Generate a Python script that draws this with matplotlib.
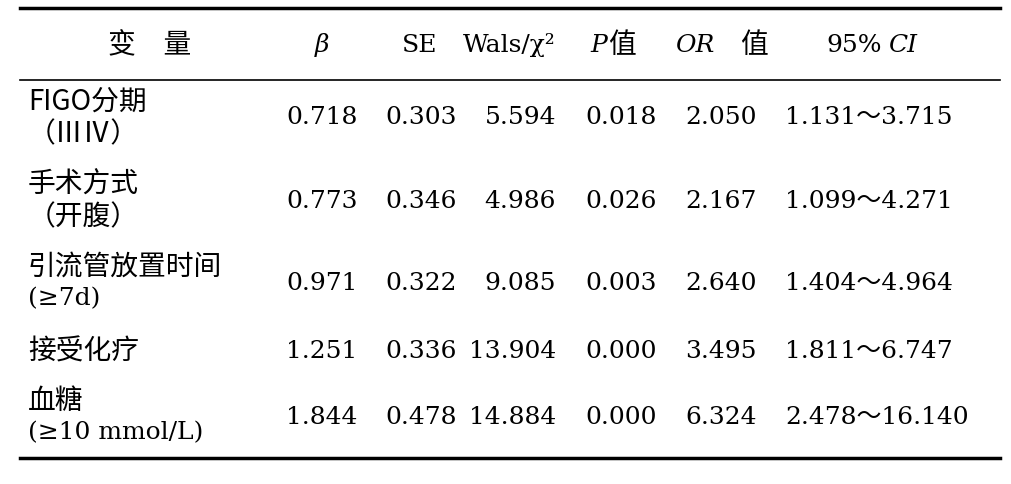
import matplotlib
matplotlib.use("Agg")
import matplotlib.pyplot as plt

variables = [["FIGO分期", "（ⅢⅣ）"], ["手术方式", "（开腹）"], ["引流管放置时间", "(≥7d)"],
             ["接受化疗"], ["血糖", "(≥10 mmol/L)"]]
beta = ["0.718", "0.773", "0.971", "1.251", "1.844"]
se = ["0.303", "0.346", "0.322", "0.336", "0.478"]
wals = ["5.594", "4.986", "9.085", "13.904", "14.884"]
pval = ["0.018", "0.026", "0.003", "0.000", "0.000"]
orv = ["2.050", "2.167", "2.640", "3.495", "6.324"]
ci = ["1.131～3.715", "1.099～4.271", "1.404～4.964", "1.811～6.747", "2.478～16.140"]

W, H = 1012, 484
fig = plt.figure(figsize=(W/100, H/100), dpi=100)
ax = fig.add_axes([0, 0, 1, 1])
ax.set_xlim(0, W); ax.set_ylim(H, 0); ax.axis("off")
fam = ["DejaVu Serif", "Noto Sans CJK SC"]
cjk = ["Noto Sans CJK SC", "DejaVu Serif"]
fs = 18
cfs = 20

ax.plot([20, 1000], [8, 8], color="black", lw=2.5)
ax.plot([20, 1000], [80, 80], color="black", lw=1.2)
ax.plot([20, 1000], [458, 458], color="black", lw=2.5)

hy = 45
def t(x, y, s, ha="center", family=fam, size=fs, style="normal"):
    ax.text(x, y, s, family=family, fontsize=size, ha=ha, va="center", fontstyle=style)

t(150, hy, "变　量", family=cjk, size=cfs)
t(322, hy, "β", style="italic")
t(420, hy, "SE")
t(463, hy, "Wals/χ²", ha="left")
t(590, hy, "P", ha="left", style="italic")
t(608, hy, "值", ha="left", family=cjk, size=cfs)
t(675, hy, "OR", ha="left", style="italic")
t(740, hy, "值", ha="left", family=cjk, size=cfs)
t(826, hy, "95%", ha="left")
t(888, hy, "CI", ha="left", style="italic")

row_y = [118, 201, 283, 352, 417]
for i, y in enumerate(row_y):
    lines = variables[i]
    if len(lines) == 2:
        t(28, y - 16, lines[0], ha="left", family=cjk, size=cfs)
        t(28, y + 16, lines[1], ha="left", family=cjk if "（" in lines[1] else fam,
          size=cfs if "（" in lines[1] else fs)
    else:
        t(28, y, lines[0], ha="left", family=cjk, size=cfs)
    t(322, y, beta[i])
    t(421, y, se[i])
    t(556, y, wals[i], ha="right")
    t(621, y, pval[i])
    t(721, y, orv[i])
    t(785, y, ci[i], ha="left")

fig.savefig("out.png", dpi=100)
